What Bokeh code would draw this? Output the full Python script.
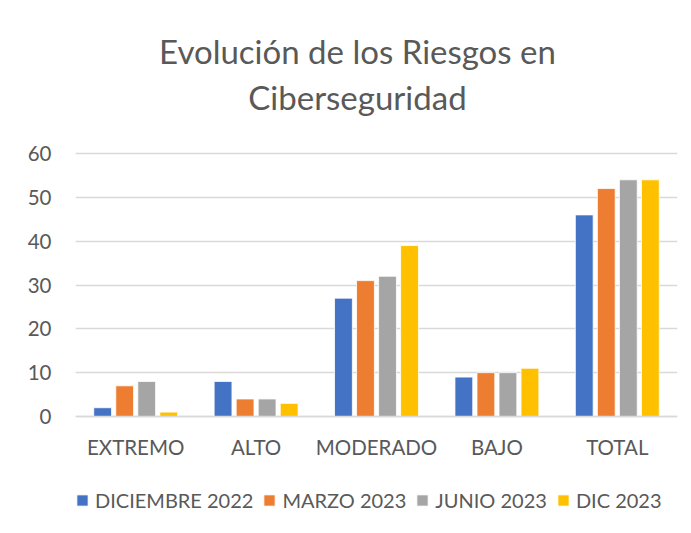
from bokeh.plotting import figure
from bokeh.models import ColumnDataSource, Legend, LegendItem, Range1d, FixedTicker, Label
from bokeh.transform import dodge
from bokeh.embed import file_html
from bokeh.resources import INLINE

categories = ["EXTREMO", "ALTO", "MODERADO", "BAJO", "TOTAL"]
series_names = ["DICIEMBRE 2022", "MARZO 2023", "JUNIO 2023", "DIC 2023"]
dic_2022 = [2, 8, 27, 9, 46]
mar_2023 = [7, 4, 31, 10, 52]
jun_2023 = [8, 4, 32, 10, 54]
dic_2023 = [1, 3, 39, 11, 54]
y_ticks = [0, 10, 20, 30, 40, 50, 60]
title_lines = ["Evolución de los Riesgos en", "Ciberseguridad"]
colors = ["#4472C4", "#ED7D31", "#A5A5A5", "#FFC000"]
series_keys = ["dic_2022", "mar_2023", "jun_2023", "dic_2023"]

source = ColumnDataSource(data=dict(
    cat=categories, dic_2022=dic_2022, mar_2023=mar_2023,
    jun_2023=jun_2023, dic_2023=dic_2023))

FONT = "Lato"
TXT = "#595959"
GRID = "#d9d9d9"

# frame covers the whole canvas height; value axis maps 0 -> y=416, 60 -> y=153
p = figure(x_range=categories, y_range=Range1d(-26.01, 94.91), width=685, height=530,
           output_backend="svg", toolbar_location=None,
           min_border_left=75, min_border_right=8, min_border_top=0,
           min_border_bottom=0, title=None)
p.x_range.range_padding = 0
p.outline_line_color = None
p.background_fill_color = "white"
p.border_fill_color = "white"

# title (two centred lines)
for txt, yv in zip(title_lines, [83.5, 73.0]):
    p.add_layout(Label(x=2.342, y=yv, text=txt, text_align="center",
                       text_baseline="alphabetic", text_font=FONT,
                       text_font_size="33px", text_color=TXT))

step = 0.183
offsets = [-1.5 * step, -0.5 * step, 0.5 * step, 1.5 * step]
items = []
for key, name, color, off in zip(series_keys, series_names, colors, offsets):
    r = p.vbar(x=dodge("cat", off, range=p.x_range), top=key, width=0.148,
               source=source, fill_color=color, line_color="white", line_width=0.8)
    items.append(LegendItem(label=name, renderers=[r]))

p.yaxis.ticker = FixedTicker(ticks=y_ticks)
p.ygrid.grid_line_color = GRID
p.ygrid.grid_line_width = 1.3
p.xgrid.grid_line_color = None
p.yaxis.axis_line_color = None
p.yaxis.major_tick_line_color = None
p.yaxis.minor_tick_line_color = None
p.yaxis.major_label_standoff = 18
p.xaxis.fixed_location = 0
p.xaxis.axis_line_color = GRID
p.xaxis.axis_line_width = 1.3
p.xaxis.major_tick_line_color = None
p.xaxis.minor_tick_line_color = None
p.xaxis.major_label_standoff = 13
for ax in (p.xaxis, p.yaxis):
    ax.major_label_text_font = FONT
    ax.major_label_text_font_size = "20.5px"
    ax.major_label_text_color = TXT

legend = Legend(items=items, orientation="horizontal", location=(0, 18),
                glyph_width=14, glyph_height=14, label_standoff=6, spacing=9,
                border_line_color=None, background_fill_alpha=0, padding=0,
                margin=0, label_text_font=FONT, label_text_font_size="20px",
                label_text_color=TXT)
p.add_layout(legend, "center")

open("out.html", "w").write(file_html(p, INLINE))
